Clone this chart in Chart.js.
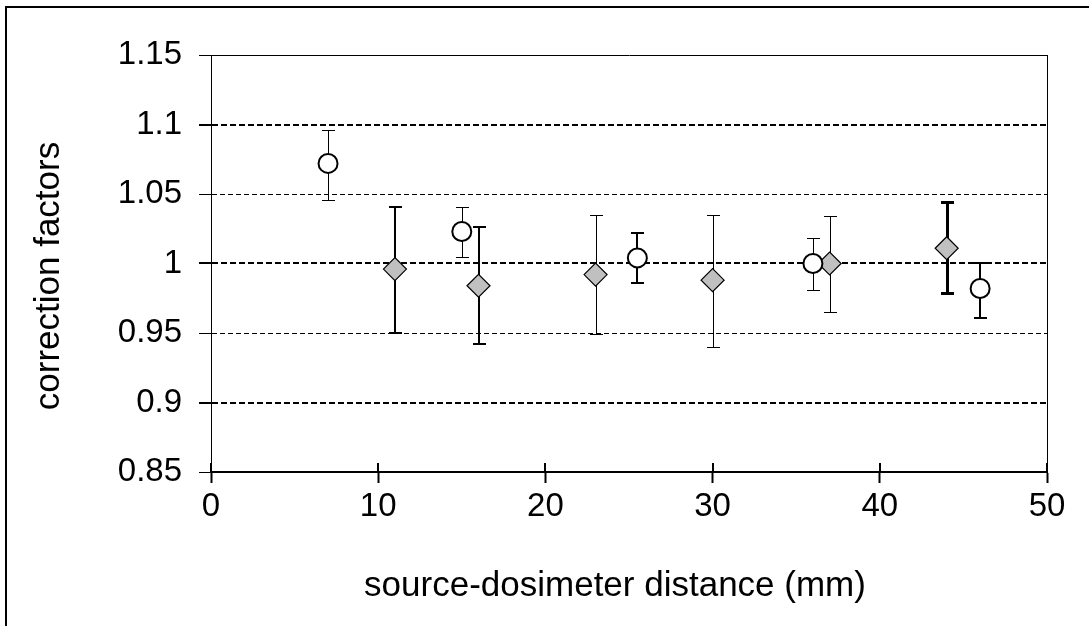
<!DOCTYPE html>
<html>
<head>
<meta charset="utf-8">
<script src="https://cdn.jsdelivr.net/npm/chart.js@4/dist/chart.umd.min.js"></script>
<style>
  body { margin: 0; background: #fff; }
  #wrap { width: 1089px; height: 626px; }
</style>
</head>
<body>
<div id="wrap"><canvas id="myChart" width="1089" height="626"></canvas></div>
<script>
// open circles
var circleX  = [7, 15, 25.5, 36, 46];
var circleY  = [1.072, 1.023, 1.004, 1.000, 0.982];
var circleHi = [1.096, 1.041, 1.022, 1.018, 1.000];
var circleLo = [1.046, 1.005, 0.986, 0.981, 0.961];

// grey diamonds
var diamondX  = [11, 16, 23, 30, 37, 44];
var diamondY  = [0.996, 0.984, 0.992, 0.988, 1.000, 1.011];
var diamondHi = [1.041, 1.026, 1.035, 1.035, 1.034, 1.044];
var diamondLo = [0.950, 0.942, 0.949, 0.940, 0.965, 0.979];

var xTitle = "source-dosimeter distance (mm)";
var yTitle = "correction factors";

// error bar stroke widths (thin / thick as in the picture)
var circleBarW  = [1, 1, 2, 1, 2];
var diamondBarW = [2, 2, 1, 1, 1, 3];

var FONT = "'Liberation Sans', Arial, sans-serif";

function toPoints(xs, ys, lo, hi){
    var out = [];
    for(var i=0; i<xs.length; i++){
        out.push({x: xs[i], y: ys[i], yMin: lo[i], yMax: hi[i]});
    }
    return out;
}

function isMajor(v){
    return Math.abs(v*10 - Math.round(v*10)) < 1e-6;
}
function isEdge(v){
    return Math.abs(v - 0.85) < 1e-6 || Math.abs(v - 1.15) < 1e-6;
}

var errorBars = {
    id: 'errorBars',
    beforeDatasetsDraw: function(chart){
        var ctx = chart.ctx, xs = chart.scales.x, ys = chart.scales.y;
        chart.data.datasets.forEach(function(ds){
            ds.data.forEach(function(p, i){
                var px = Math.round(xs.getPixelForValue(p.x));
                var t = Math.round(ys.getPixelForValue(p.yMax));
                var b = Math.round(ys.getPixelForValue(p.yMin));
                var w = ds.barWidths[i];
                var off = (w % 2) ? 0.5 : 0;
                ctx.save();
                ctx.strokeStyle = '#000';
                ctx.lineWidth = w;
                ctx.beginPath();
                ctx.moveTo(px + off, t);
                ctx.lineTo(px + off, b);
                ctx.moveTo(px - 6, t + off);
                ctx.lineTo(px + 7, t + off);
                ctx.moveTo(px - 6, b + off);
                ctx.lineTo(px + 7, b + off);
                ctx.stroke();
                ctx.restore();
            });
        });
    }
};

var frame = {
    id: 'frame',
    beforeDraw: function(chart){
        var ctx = chart.ctx;
        ctx.save();
        ctx.fillStyle = '#fff';
        ctx.fillRect(0, 0, chart.width, chart.height);
        ctx.fillStyle = '#000';
        ctx.fillRect(5, 6, 2, chart.height - 6);
        ctx.fillRect(5, 6, chart.width - 5, 2);
        ctx.restore();
    },
    afterDraw: function(chart){
        var ctx = chart.ctx, a = chart.chartArea, xs = chart.scales.x;
        ctx.save();
        ctx.strokeStyle = '#000';
        ctx.lineWidth = 1;
        ctx.beginPath();
        ctx.moveTo(a.left, a.top + 0.5);
        ctx.lineTo(a.right + 1, a.top + 0.5);
        ctx.moveTo(a.right + 0.5, a.top);
        ctx.lineTo(a.right + 0.5, a.bottom + 11);
        ctx.stroke();
        // inner half of the x tick marks
        ctx.lineWidth = 2;
        ctx.beginPath();
        xs.ticks.forEach(function(t){
            var px = Math.round(xs.getPixelForValue(t.value));
            ctx.moveTo(px, a.bottom - 9);
            ctx.lineTo(px, a.bottom);
        });
        ctx.stroke();

        // axis titles
        ctx.fillStyle = '#000';
        ctx.font = '35px ' + FONT;
        ctx.textAlign = 'center';
        ctx.textBaseline = 'middle';
        ctx.fillText(xTitle, 615, 586);
        ctx.translate(49, 276);
        ctx.rotate(-Math.PI/2);
        ctx.fillText(yTitle, 0, 0);
        ctx.restore();
    }
};

var ctx = document.getElementById('myChart').getContext('2d');

var myChart = new Chart(ctx, {
    type: 'scatter',
    data: {
        datasets: [
            {
                label: 'circles',
                data: toPoints(circleX, circleY, circleLo, circleHi),
                barWidths: circleBarW,
                pointStyle: 'circle',
                pointRadius: 9.5,
                pointHoverRadius: 9.5,
                backgroundColor: '#ffffff',
                borderColor: '#000000',
                borderWidth: 2
            },
            {
                label: 'diamonds',
                data: toPoints(diamondX, diamondY, diamondLo, diamondHi),
                barWidths: diamondBarW,
                pointStyle: 'rectRot',
                pointRadius: 11.5,
                pointHoverRadius: 11.5,
                backgroundColor: '#c0c0c0',
                borderColor: '#000000',
                borderWidth: 1.2
            }
        ]
    },
    options: {
        responsive: false,
        animation: false,
        events: [],
        layout: { padding: { left: 0, top: 55, right: 42, bottom: 0 } },
        plugins: {
            legend: { display: false },
            tooltip: { enabled: false }
        },
        scales: {
            x: {
                type: 'linear',
                min: 0,
                max: 50,
                afterFit: function(s){ s.height = 154; },
                ticks: {
                    stepSize: 10,
                    color: '#000',
                    padding: 4,
                    font: { family: FONT, size: 33 }
                },
                grid: {
                    drawOnChartArea: false,
                    drawTicks: true,
                    tickLength: 11,
                    tickWidth: 2,
                    tickColor: '#000'
                },
                border: { color: '#000', width: 2 }
            },
            y: {
                type: 'linear',
                min: 0.85,
                max: 1.15,
                afterFit: function(s){ s.width = 211; },
                ticks: {
                    stepSize: 0.05,
                    color: '#000',
                    padding: 17,
                    font: { family: FONT, size: 33 },
                    callback: function(v){ return String(+(+v).toFixed(2)); }
                },
                grid: {
                    color: function(c){
                        if(!c.tick || isEdge(c.tick.value)) return 'rgba(0,0,0,0)';
                        return '#000';
                    },
                    lineWidth: function(c){
                        if(!c.tick) return 1;
                        return isMajor(c.tick.value) && !isEdge(c.tick.value) ? 2 : 1;
                    },
                    tickLength: 12,
                    tickColor: '#000',
                    tickWidth: function(c){
                        if(!c.tick) return 1;
                        return isMajor(c.tick.value) && !isEdge(c.tick.value) ? 2 : 1;
                    },
                    tickBorderDash: []
                },
                border: {
                    color: '#000',
                    width: 1,
                    dash: function(c){
                        if(!c.tick) return [];
                        return isMajor(c.tick.value) ? [6, 3] : [5, 3];
                    }
                }
            }
        }
    },
    plugins: [frame, errorBars]
});
</script>
</body>
</html>
